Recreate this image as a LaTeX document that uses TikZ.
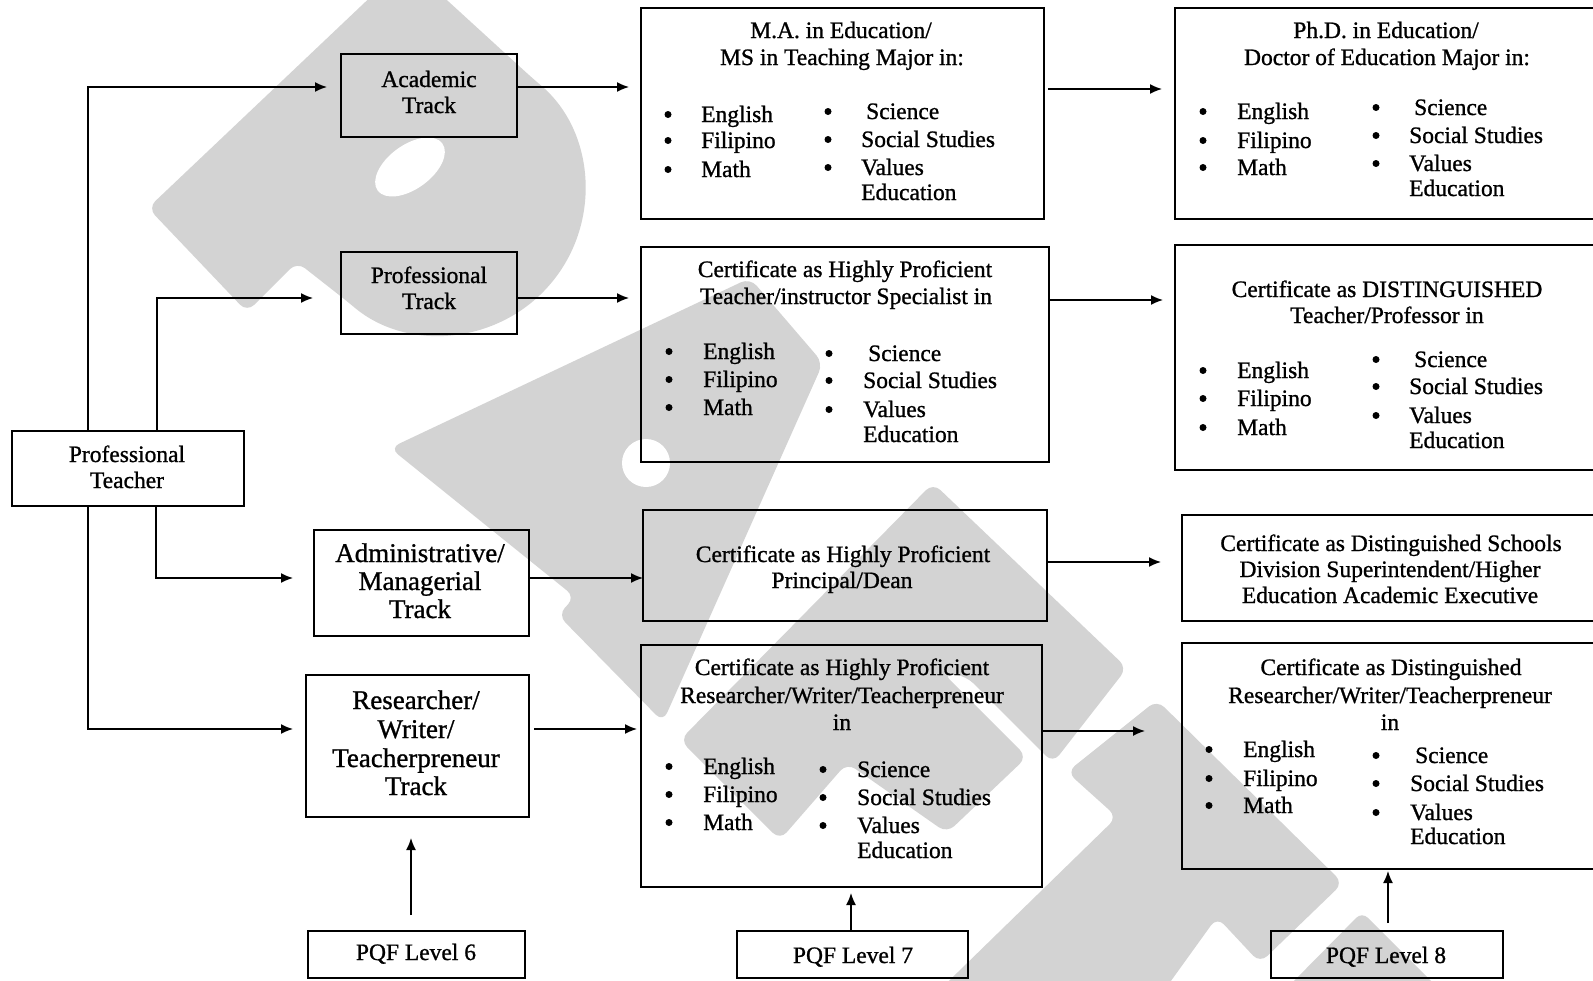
\documentclass[tikz,border=0pt]{standalone}
\usepackage{fontspec}
\setmainfont{Liberation Serif}[FakeBold=1.0]
\usetikzlibrary{arrows.meta}
\definecolor{wmgray}{RGB}{211,211,211}
\newcommand\mybox[5]{\node[box,minimum width=#4pt,minimum height=#5pt] (#1) at (#2,#3) {};}
\newcommand\mytext[5][txt]{\node[#1] (#2) at (#3,#4) {#5};}
\newcommand\mybul[5]{\node[dot] (#1b) at (#2,#4-7.5) {};\node[txt,anchor=base west] (#1) at (#3,#4) {#5};}
\tikzset{
  box/.style={draw, line width=1.8pt, inner sep=0pt, outer sep=0pt},
  txt/.style={font=\fontsize{23.5}{27.5}\selectfont, inner sep=0pt, anchor=base},
  big/.style={font=\fontsize{27}{29}\selectfont, inner sep=0pt, anchor=base},
  dot/.style={circle, fill, inner sep=0pt, minimum size=7pt},
  arr/.style={line width=1.5pt, -{Latex[length=12pt,width=10pt]}},
}
\begin{document}
\begin{tikzpicture}[x=1pt,y=-1pt]
\useasboundingbox (0,0) rectangle (1593,980);
\begin{scope}
\clip (0,0) rectangle (1593,980);
% watermark
\fill[wmgray, rounded corners=10pt] (414,-30) -- (533.2,78.9) arc[start angle=-50, end angle=130, radius=145] -- (297,262) -- (247,312) -- (148,208) -- (399,-30) -- cycle;
\begin{scope}[shift={(410,167)},rotate=36]
\fill[white] (0,0) ellipse[x radius=40, y radius=22];
\end{scope}
\fill[wmgray, rounded corners=10pt] (390,448) -- (750,278) -- (823,363) -- (663,722) -- (558,615) -- (575,597) -- cycle;
\fill[white] (646,463) circle[radius=24];
\fill[wmgray, rounded corners=10pt] (933,483) -- (1127,668) -- (1053,763) -- (966,676) -- (943,673) -- (1027,757) -- (947,833) -- (847,763) -- (780,840) -- (680,740) -- cycle;
\fill[wmgray, rounded corners=10pt] (1157,700) -- (1343,883) -- (1260,963) -- (1217,917) -- (1150,1010) -- (919,1010) -- (1117,817) -- (1067,772) -- cycle;
\fill[wmgray, rounded corners=8pt] (1362,912) -- (1440,990) -- (1285,990) -- cycle;

% boxes
\mybox{pt}{128}{468.5}{232}{75}
\mybox{acad}{429}{95.5}{176}{83}
\mybox{prof}{429}{293}{176}{82}
\mybox{admin}{421.5}{583}{215}{106}
\mybox{rtrack}{417.5}{746}{223}{142}
\mybox{pqf6}{416.5}{954.5}{217}{47}
\mybox{pqf7}{852.5}{954.5}{231}{47}
\mybox{pqf8}{1387}{954.5}{232}{47}
\mybox{ma}{842.5}{113.5}{403}{211}
\mybox{phd}{1397.5}{113.5}{445}{211}
\mybox{hpt}{845}{354.5}{408}{215}
\mybox{dt}{1397.5}{357.5}{445}{225}
\mybox{hpp}{845}{565.5}{404}{111}
\mybox{dsup}{1401}{568}{438}{106}
\mybox{hpr}{841.5}{766}{401}{242}
\mybox{dres}{1401}{756}{438}{226}

% left texts
\mytext{acad1}{429}{87}{Academic}
\mytext{acad2}{429}{113}{Track}
\mytext{prof1}{429}{283}{Professional}
\mytext{prof2}{429}{309}{Track}
\mytext{pt1}{127}{462}{Professional}
\mytext{pt2}{127}{488}{Teacher}
\mytext[big]{adm1}{420}{562}{Administrative/}
\mytext[big]{adm2}{420}{590}{Managerial}
\mytext[big]{adm3}{420}{618}{Track}
\mytext[big]{rt1}{416}{709}{Researcher/}
\mytext[big]{rt2}{416}{738}{Writer/}
\mytext[big]{rt3}{416}{767}{Teacherpreneur}
\mytext[big]{rt4}{416}{795}{Track}
\mytext{pqf6t}{416}{960}{PQF Level 6}
\mytext{pqf7t}{853}{963}{PQF Level 7}
\mytext{pqf8t}{1386}{963}{PQF Level 8}

% MA
\mytext{ma1}{841}{38}{M.A. in Education/}
\mytext{ma2}{842}{65}{MS in Teaching Major in:}
\mybul{mai1}{668}{701}{122}{English}
\mybul{mai2}{668}{701}{148}{Filipino}
\mybul{mai3}{668}{701}{177}{Math}
\mybul{mai4}{828}{866}{119}{Science}
\mybul{mai5}{828}{861}{147}{Social Studies}
\mybul{mai6}{828}{861}{175}{Values}
\mytext[txt,anchor=base west]{mai7}{861}{200}{Education}

% PhD
\mytext{phd1}{1386}{38}{Ph.D. in Education/}
\mytext{phd2}{1387}{65}{Doctor of Education Major in:}
\mybul{phi1}{1203}{1237}{119}{English}
\mybul{phi2}{1203}{1237}{148}{Filipino}
\mybul{phi3}{1203}{1237}{175}{Math}
\mybul{phi4}{1376}{1414}{115}{Science}
\mybul{phi5}{1376}{1409}{143}{Social Studies}
\mybul{phi6}{1376}{1409}{171}{Values}
\mytext[txt,anchor=base west]{phi7}{1409}{196}{Education}

% HP teacher
\mytext{hpt1}{845}{277}{Certificate as Highly Proficient}
\mytext{hpt2}{846}{304}{Teacher/instructor Specialist in}
\mybul{hti1}{669}{703}{359}{English}
\mybul{hti2}{669}{703}{387}{Filipino}
\mybul{hti3}{669}{703}{415}{Math}
\mybul{hti4}{829}{868}{361}{Science}
\mybul{hti5}{829}{863}{388}{Social Studies}
\mybul{hti6}{829}{863}{417}{Values}
\mytext[txt,anchor=base west]{hti7}{863}{442}{Education}

% Distinguished teacher
\mytext{dt1}{1387}{297}{Certificate as DISTINGUISHED}
\mytext{dt2}{1387}{323}{Teacher/Professor in}
\mybul{dti1}{1203}{1237}{378}{English}
\mybul{dti2}{1203}{1237}{406}{Filipino}
\mybul{dti3}{1203}{1237}{435}{Math}
\mybul{dti4}{1376}{1414}{367}{Science}
\mybul{dti5}{1376}{1409}{394}{Social Studies}
\mybul{dti6}{1376}{1409}{423}{Values}
\mytext[txt,anchor=base west]{dti7}{1409}{448}{Education}

% HP principal
\mytext{hpp1}{843}{562}{Certificate as Highly Proficient}
\mytext{hpp2}{842}{588}{Principal/Dean}

% Dist superintendent
\mytext{ds1}{1391}{551}{Certificate as Distinguished Schools}
\mytext{ds2}{1390}{577}{Division Superintendent/Higher}
\mytext{ds3}{1390}{603}{Education Academic Executive}

% HP researcher
\mytext{hpr1}{842}{675}{Certificate as Highly Proficient}
\mytext{hpr2}{842}{703}{Researcher/Writer/Teacherpreneur}
\mytext{hpr3}{842}{730}{in}
\mybul{hri1}{669}{703}{774}{English}
\mybul{hri2}{669}{703}{802}{Filipino}
\mybul{hri3}{669}{703}{830}{Math}
\mybul{hri4}{823}{857}{777}{Science}
\mybul{hri5}{823}{857}{805}{Social Studies}
\mybul{hri6}{823}{857}{833}{Values}
\mytext[txt,anchor=base west]{hri7}{857}{858}{Education}

% Dist researcher
\mytext{dr1}{1391}{675}{Certificate as Distinguished}
\mytext{dr2}{1390}{703}{Researcher/Writer/Teacherpreneur}
\mytext{dr3}{1390}{730}{in}
\mybul{dri1}{1209}{1243}{757}{English}
\mybul{dri2}{1209}{1243}{786}{Filipino}
\mybul{dri3}{1209}{1243}{813}{Math}
\mybul{dri4}{1376}{1415}{763}{Science}
\mybul{dri5}{1376}{1410}{791}{Social Studies}
\mybul{dri6}{1376}{1410}{820}{Values}
\mytext[txt,anchor=base west]{dri7}{1410}{844}{Education}

% connectors
\draw[arr, shorten >=14pt] ([xshift=76pt]pt.north west) |- (acad.west |- 0,87);
\draw[arr, shorten >=28pt] ([xshift=145pt]pt.north west) |- (prof.west |- 0,298);
\draw[arr, shorten >=21pt] ([xshift=144pt]pt.south west) |- (admin.west |- 0,578);
\draw[arr, shorten >=13pt] ([xshift=76pt]pt.south west) |- (rtrack.west |- 0,729);
\draw[arr, shorten >=12pt] (acad.east |- 0,87) -- (ma.west |- 0,87);
\draw[arr, shorten >=12pt] (prof.east |- 0,298) -- (hpt.west |- 0,298);
\draw[arr] (admin.east |- 0,578) -- (hpp.west |- 0,578);
\draw[arr, shorten <=5pt, shorten >=4pt] (rtrack.east |- 0,729) -- (hpr.west |- 0,729);
\draw[arr, shorten <=4pt, shorten >=13pt] (ma.east |- 0,89) -- (phd.west |- 0,89);
\draw[arr, shorten <=1pt, shorten >=12pt] (hpt.east |- 0,300) -- (dt.west |- 0,300);
\draw[arr, shorten <=1pt, shorten >=21pt] (hpp.east |- 0,562) -- (dsup.west |- 0,562);
\draw[arr, shorten <=1pt, shorten >=37pt] (hpr.east |- 0,731) -- (dres.west |- 0,731);
\draw[arr, shorten <=16pt, shorten >=21pt] (pqf6.north -| 411,0) -- (rtrack.south -| 411,0);
\draw[arr, shorten >=6pt] (pqf7.north -| 851,0) -- (hpr.south -| 851,0);
\draw[arr, shorten <=8pt, shorten >=2pt] (pqf8.north -| 1388,0) -- (dres.south -| 1388,0);
\end{scope}
\end{tikzpicture}
\end{document}
